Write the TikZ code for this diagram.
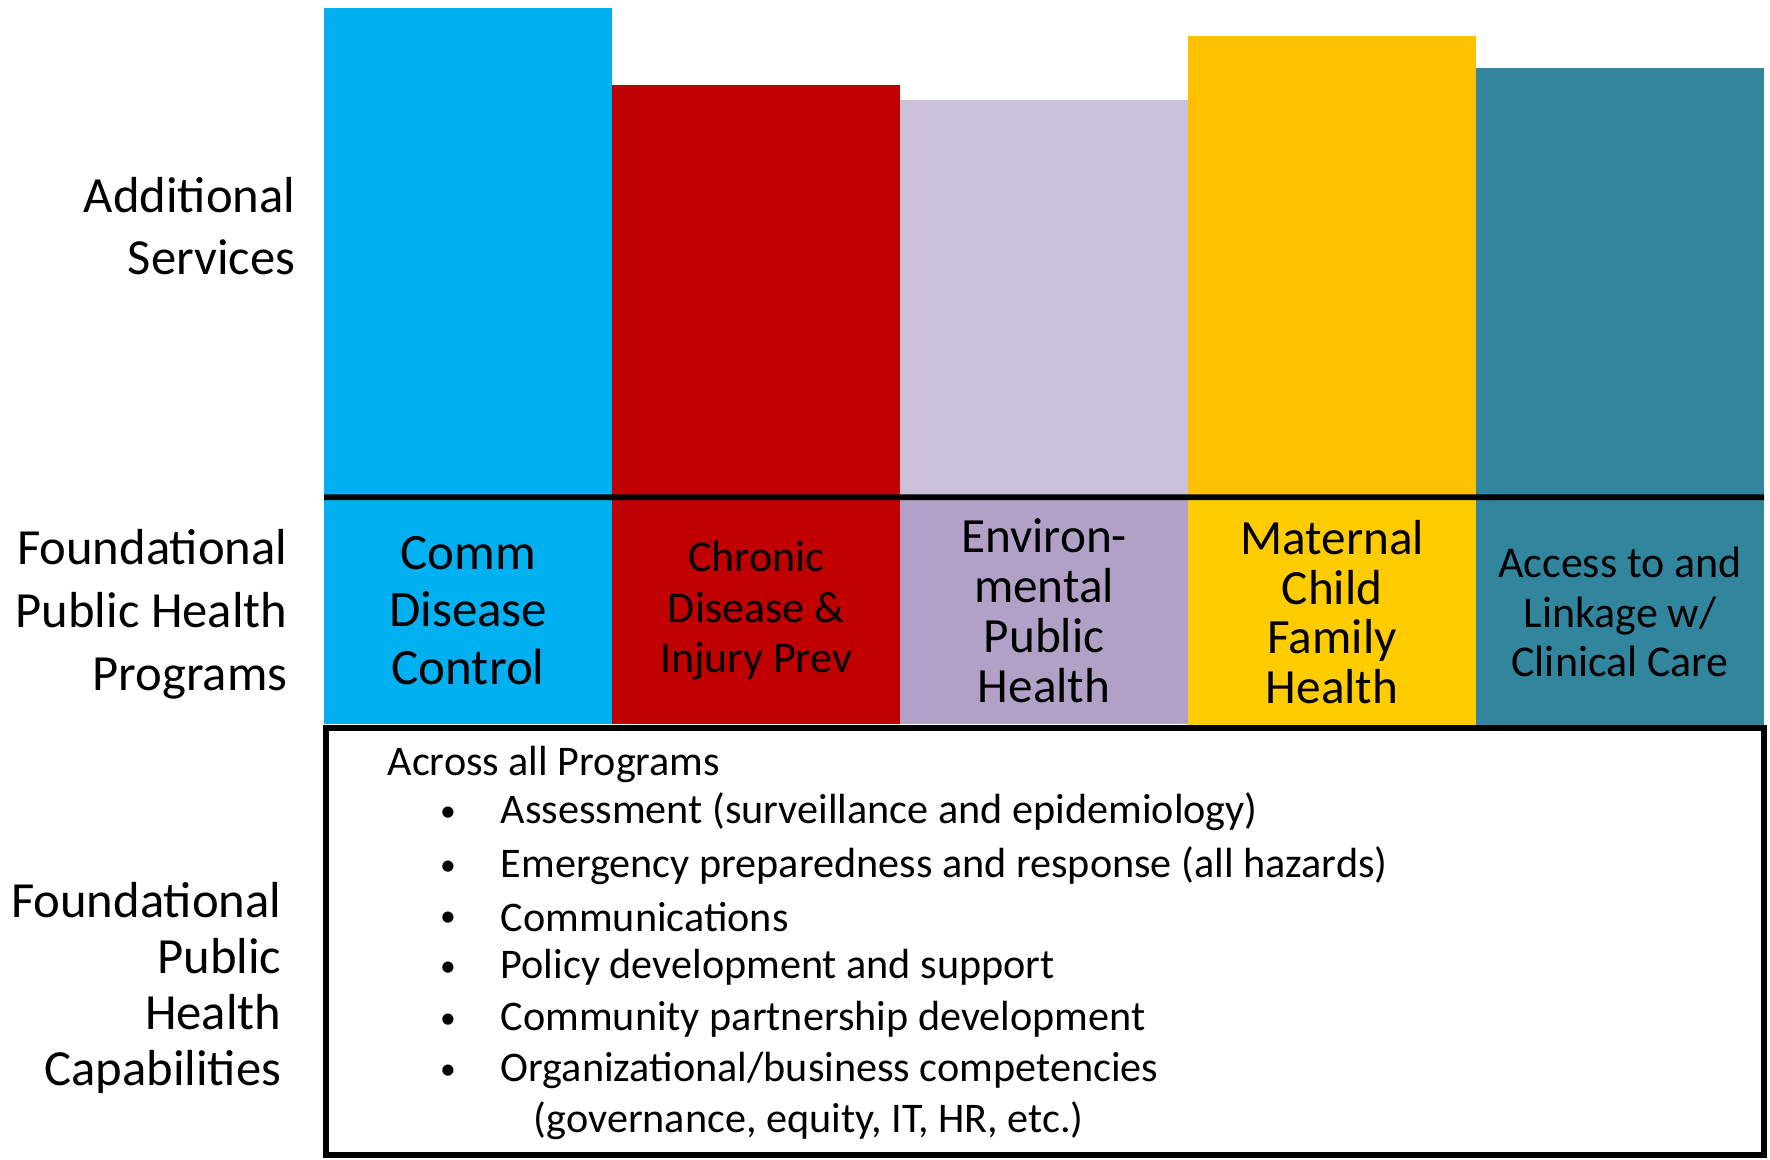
\documentclass[tikz,border=0pt]{standalone}
\usepackage{fontspec}
\setmainfont{Carlito}
\definecolor{commblue}{HTML}{00B0F0}
\definecolor{chronred}{HTML}{C00000}
\definecolor{envlilac}{HTML}{CCC1DA}
\definecolor{envpurple}{HTML}{B2A1C7}
\definecolor{mchgold}{HTML}{FFC000}
\definecolor{mchyellow}{HTML}{FFCC00}
\definecolor{accteal}{HTML}{31859C}
\tikzset{
  bar/.style={rectangle, inner sep=0pt, outer sep=0pt, anchor=north west, minimum width=2.88cm},
  prog/.style={bar, minimum height=2.27cm, align=center},
  sidelabel/.style={anchor=east, align=right, inner sep=0pt},
  capitem/.style={anchor=west, inner sep=0pt, font=\fontsize{12}{14}\selectfont},
  capbullet/.style={inner sep=0pt, font=\fontsize{9}{10}\selectfont},
}
\begin{document}
\begin{tikzpicture}[x=0.01cm,y=-0.01cm]
\useasboundingbox (0,0) rectangle (1770,1159);
% additional services
\node[bar, fill=commblue, minimum height=4.89cm] (addcomm) at (324,8){};
\node[bar, fill=chronred, minimum height=4.12cm] (addchron) at (612,85){};
\node[bar, fill=envlilac, minimum height=3.97cm] (addenv) at (900,100){};
\node[bar, fill=mchgold, minimum height=4.61cm] (addmch) at (1188,36){};
\node[bar, fill=accteal, minimum height=4.29cm] (addacc) at (1476,68){};
% foundational programs
\node[prog, fill=commblue, font=\fontsize{14.5}{16.3}\selectfont] (comm) at (324,497){Comm\\Disease\\Control};
\node[prog, fill=chronred, font=\fontsize{12.5}{14.4}\selectfont] (chron) at (612,497){Chronic\\Disease \&\\Injury Prev};
\node[prog, fill=envpurple, font=\fontsize{14}{14.2}\selectfont] (env) at (900,497){Environ-\\mental\\Public\\Health};
\node[prog, fill=mchyellow, font=\fontsize{14}{14.2}\selectfont, minimum height=2.3cm] (mch) at (1188,497){Maternal\\Child\\Family\\Health};
\node[prog, fill=accteal, font=\fontsize{12.5}{14.1}\selectfont, minimum height=2.3cm] (acc) at (1476,497){Access to and\\Linkage w/\\Clinical Care};
\draw[line width=1.6pt] (addcomm.south west) -- (addacc.south east);
% foundational capabilities
\node[draw, line width=1.6pt, inner sep=0pt, outer sep=0pt, anchor=north west, minimum width=14.37cm, minimum height=4.27cm] (capbox) at (326,728){};
\node[capitem] (across) at (387,764){Across all Programs};
\node[capitem] (assess) at (500,812){Assessment (surveillance and epidemiology)};
\node[capitem] (emerg) at (500,866){Emergency preparedness and response (all hazards)};
\node[capitem] (comms) at (500,917){Communications};
\node[capitem] (policy) at (500,967){Policy development and support};
\node[capitem] (partner) at (500,1019){Community partnership development};
\node[capitem] (orgbiz) at (500,1070){Organizational/business competencies};
\node[capitem] (orgbiz2) at (533,1121){(governance, equity, IT, HR, etc.)};
\node[capbullet] (b1) at (448,814){\textbullet};
\node[capbullet] (b2) at (448,868){\textbullet};
\node[capbullet] (b3) at (448,919){\textbullet};
\node[capbullet] (b4) at (448,969){\textbullet};
\node[capbullet] (b5) at (448,1021){\textbullet};
\node[capbullet] (b6) at (448,1072){\textbullet};
% row labels
\node[sidelabel, font=\fontsize{14.4}{17.6}\selectfont] (addlabel) at (296,226){Additional\\Services};
\node[sidelabel, font=\fontsize{14.4}{17.9}\selectfont] (proglabel) at (288,614){Foundational\\Public Health\\Programs};
\node[sidelabel, font=\fontsize{14.4}{16}\selectfont] (caplabel) at (282,988){Foundational\\Public\\Health\\Capabilities};
\end{tikzpicture}
\end{document}
